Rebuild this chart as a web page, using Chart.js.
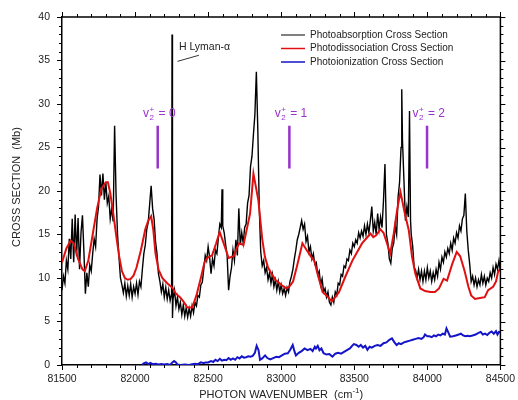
<!DOCTYPE html>
<html>
<head>
<meta charset="utf-8">
<script src="https://cdn.jsdelivr.net/npm/chart.js@4/dist/chart.umd.min.js"></script>
<style>
  html, body { margin: 0; padding: 0; background: #fff; }
  canvas { display: block; }
</style>
</head>
<body>
<canvas id="chart" width="518" height="400"></canvas>
<script>
// Photoabsorption spectrum (cm^-1, Mb)
const absWavenumber = [
  81500,81510,81520,81530,81540,81550,81560,81570,81580,81590,
  81600,81610,81620,81630,81640,81650,81660,81670,81680,81690,
  81700,81710,81720,81730,81740,81750,81760,81770,81780,81790,
  81800,81810,81820,81830,81840,81850,81860,81870,81880,81890,
  81900,81910,81920,81930,81940,81950,81960,81970,81980,81990,
  82000,82010,82020,82030,82040,82050,82060,82070,82080,82090,
  82100,82110,82120,82130,82140,82150,82160,82170,82180,82190,
  82200,82210,82220,82230,82240,82250,82253,82256,82260,82270,
  82280,82290,82300,82310,82320,82330,82340,82350,82360,82370,
  82380,82390,82400,82410,82420,82430,82440,82450,82460,82470,
  82480,82490,82500,82510,82520,82530,82540,82550,82560,82570,
  82580,82590,82595,82600,82610,82620,82630,82640,82650,82660,
  82670,82680,82690,82700,82710,82720,82730,82740,82750,82760,
  82770,82780,82790,82800,82810,82820,82830,82840,82850,82860,
  82870,82880,82890,82900,82910,82920,82930,82940,82950,82960,
  82970,82980,82990,83000,83010,83020,83030,83040,83050,83060,
  83070,83080,83090,83100,83110,83120,83130,83140,83150,83160,
  83170,83180,83190,83200,83210,83220,83230,83240,83250,83260,
  83270,83280,83290,83300,83310,83320,83330,83340,83350,83360,
  83370,83380,83390,83400,83410,83420,83430,83440,83450,83460,
  83470,83480,83490,83500,83510,83520,83530,83540,83550,83560,
  83570,83580,83590,83600,83610,83620,83630,83640,83650,83660,
  83670,83680,83690,83700,83710,83720,83730,83740,83750,83760,
  83770,83780,83790,83800,83810,83820,83825,83830,83840,83850,
  83860,83870,83878,83885,83890,83900,83910,83920,83930,83940,
  83950,83960,83970,83980,83990,84000,84010,84020,84030,84040,
  84050,84060,84070,84080,84090,84100,84110,84120,84130,84140,
  84150,84160,84170,84180,84190,84200,84210,84220,84230,84240,
  84250,84260,84270,84280,84290,84300,84310,84320,84330,84340,
  84350,84360,84370,84380,84390,84400,84410,84420,84430,84440,
  84450,84460,84470,84480,84490,84500
];
const absCrossSection = [
  8.6,10.2,9.4,12.0,11.0,14.5,12.2,16.8,11.8,17.3,
  12.5,16.9,11.0,15.2,17.2,13.0,8.2,10.6,9.0,11.5,
  10.8,12.8,14.5,13.6,16.8,18.2,21.9,19.5,22.0,19.0,
  21.0,18.6,19.4,16.8,18.0,16.5,27.5,19.5,15.0,12.4,
  10.0,9.2,8.3,9.4,7.9,9.1,8.0,9.3,7.8,9.0,
  8.2,9.4,8.1,9.6,9.0,11.0,12.8,13.8,15.6,16.4,
  18.5,20.6,18.0,16.8,14.2,12.8,10.5,9.6,8.4,9.3,
  7.8,8.9,7.6,8.6,7.4,8.2,38.0,5.4,7.6,8.6,
  6.8,7.8,6.4,7.2,5.8,6.9,5.6,6.6,5.5,6.5,
  5.6,6.8,6.0,7.2,6.8,8.0,7.8,9.2,9.5,11.0,
  12.6,12.0,13.6,12.4,10.5,12.2,11.4,13.2,12.8,14.6,
  16.2,15.8,20.2,16.0,15.2,13.8,12.6,8.6,10.2,11.2,
  13.2,12.0,14.4,12.6,18.0,13.8,15.2,14.0,15.8,16.2,
  18.6,19.5,22.8,24.0,26.5,28.8,33.7,27.0,18.0,13.0,
  11.4,12.0,10.6,11.2,9.8,10.6,9.4,10.4,9.0,9.8,
  8.6,9.6,8.4,9.2,8.2,8.8,8.0,8.9,8.4,9.6,
  10.2,11.0,12.2,13.2,14.4,15.0,15.8,16.6,15.6,16.2,
  14.2,14.8,13.0,13.6,12.2,12.8,11.6,11.8,10.4,10.8,
  9.2,9.9,8.4,8.8,7.8,8.4,7.2,6.9,7.8,7.2,
  8.4,8.0,9.4,9.2,10.4,10.2,11.4,11.2,12.2,12.0,
  13.2,12.8,14.0,13.6,14.4,14.0,15.2,14.6,15.4,14.8,
  16.0,15.0,16.2,15.2,16.6,18.2,15.4,16.4,15.0,17.4,
  15.6,17.0,15.8,18.9,23.1,15.0,14.0,12.2,11.7,13.4,
  14.0,16.0,15.0,19.3,21.0,25.0,31.7,25.8,21.2,16.6,
  18.2,17.0,29.2,16.6,15.0,13.6,11.2,10.9,10.0,11.0,
  9.8,10.8,9.6,10.8,9.8,11.2,10.0,10.8,9.6,10.6,
  9.8,11.0,10.2,11.8,11.0,12.4,11.8,13.0,12.4,13.4,
  12.8,14.0,13.2,14.6,14.0,15.2,14.6,16.0,15.4,16.8,
  17.2,19.7,15.4,13.2,11.6,9.6,10.2,9.2,10.0,9.0,
  9.8,9.2,10.4,9.4,10.2,9.2,10.0,9.6,10.6,10.0,
  11.2,10.4,11.6,11.0,12.0,10.8
];

// Photodissociation cross section
const dissWavenumber = [
  81500,81530,81559,81580,81610,81640,81656,81680,81710,81740,
  81770,81800,81814,81830,81850,81870,81890,81910,81930,81950,
  81970,81990,82010,82040,82070,82090,82110,82125,82140,82160,
  82186,82220,82254,82280,82312,82335,82357,82391,82420,82450,
  82475,82493,82527,82555,82579,82610,82640,82674,82700,82713,
  82742,82787,82810,82844,82870,82889,82910,82934,82960,83002,
  83036,83060,83081,83110,83145,83175,83206,83226,83250,83283,
  83310,83346,83370,83396,83440,83487,83520,83554,83585,83611,
  83630,83650,83679,83700,83720,83746,83770,83795,83816,83845,
  83873,83895,83918,83952,83985,84020,84052,84080,84111,84135,
  84170,84201,84225,84255,84281,84300,84326,84360,84393,84416,
  84450,84470,84484,84500
];
const dissCrossSection = [
  11.8,13.4,14.3,14.0,12.2,11.0,10.8,12.0,15.0,18.0,
  20.3,21.0,21.0,19.8,17.5,15.0,12.6,10.8,10.0,9.8,
  9.9,10.3,11.2,13.2,15.6,16.6,17.1,15.5,12.8,11.0,
  10.0,9.4,8.9,8.2,7.7,7.2,6.6,6.6,8.0,10.0,
  11.8,12.3,12.6,14.0,15.3,13.8,12.3,12.5,13.6,14.0,
  13.8,17.4,22.0,18.9,14.5,12.4,11.2,10.5,9.8,9.2,
  8.8,9.1,9.6,11.5,14.0,13.2,12.4,12.0,10.4,8.4,
  8.0,7.3,7.8,8.4,10.2,12.0,13.0,14.0,14.6,15.1,
  14.7,14.9,15.6,15.2,14.2,12.8,15.1,18.0,19.9,17.5,
  15.5,12.5,10.5,8.8,8.5,8.4,8.4,8.8,9.9,9.7,
  11.6,13.0,12.5,10.8,9.0,8.0,7.6,7.7,7.8,8.6,
  9.0,9.6,10.7,11.1
];

// Photoionization cross section
const ionWavenumber = [
  82050,82060,82075,82090,82105,82120,82140,82160,82180,82200,
  82220,82240,82255,82267,82280,82290,82310,82340,82370,82391,
  82410,82430,82450,82470,82482,82500,82520,82535,82550,82565,
  82580,82595,82610,82625,82640,82655,82670,82685,82700,82715,
  82730,82745,82760,82775,82790,82805,82820,82832,82845,82855,
  82870,82890,82905,82925,82945,82966,82985,83005,83025,83045,
  83060,83079,83092,83101,83120,83140,83160,83180,83200,83215,
  83230,83238,83250,83262,83275,83290,83310,83330,83351,83370,
  83390,83410,83430,83450,83470,83485,83497,83515,83530,83545,
  83560,83575,83590,83605,83620,83640,83660,83680,83700,83720,
  83740,83758,83775,83790,83805,83820,83840,83860,83880,83900,
  83920,83940,83960,83975,83984,84000,84015,84030,84045,84060,
  84075,84090,84105,84120,84131,84142,84156,84175,84195,84215,
  84230,84245,84260,84275,84290,84310,84330,84350,84365,84380,
  84395,84410,84425,84440,84455,84470,84480,84490,84500
];
const ionCrossSection = [
  0.05,0.2,0.3,0.1,0.25,0.1,0.15,0.05,0.1,0.05,
  0.1,0.0,0.3,0.45,0.3,0.05,0.0,0.05,0.0,0.1,
  0.15,0.1,0.3,0.2,0.3,0.3,0.45,0.35,0.6,0.45,
  0.7,0.5,0.6,0.55,0.8,0.6,0.75,0.6,0.9,0.75,
  1.0,0.85,0.9,1.0,0.95,1.05,1.4,2.2,1.7,0.6,
  0.75,1.1,0.8,0.65,0.8,0.95,0.9,1.1,1.3,1.35,
  1.7,2.3,1.5,1.1,1.4,1.6,1.9,1.7,1.85,1.6,
  2.1,1.9,2.2,1.7,1.9,1.35,1.2,1.25,0.95,1.3,
  1.4,1.3,1.5,1.7,1.9,2.2,2.4,2.3,2.1,2.3,
  2.0,2.2,1.75,2.1,2.0,2.2,2.3,2.2,2.5,2.6,
  2.9,3.06,2.6,2.3,2.5,2.4,2.6,2.7,2.8,2.9,
  3.0,3.1,3.0,3.2,3.5,3.3,3.3,3.2,3.4,3.3,
  3.5,3.4,3.6,3.5,4.2,3.8,3.25,3.3,3.4,3.5,
  3.6,3.4,3.3,3.35,3.3,3.4,3.5,3.7,3.8,3.5,
  3.6,3.45,3.7,3.85,3.6,3.9,3.5,3.8,3.75
];

// Axis ticks
const xTicks = [81500, 82000, 82500, 83000, 83500, 84000, 84500];
const yTicks = [0, 5, 10, 15, 20, 25, 30, 35, 40];

const seriesNames = [
  'Photoabsorption Cross Section',
  'Photodissociation Cross Section',
  'Photoionization Cross Section'
];

// Ionic vibrational level markers v2+ = 0, 1, 2
const vibLevels = ['0', '1', '2'];
const vibWavenumber = [82155, 83056, 83998];
const vibMarkerRange = [22.6, 27.5];
const vibLabelLevel = 28.5;

// H Lyman-alpha label and its pointer
const lymanLabel = 'H Lyman-\u03b1';
const lymanLabelPos = [82300, 36.5];
const lymanPointerX = [82290, 82437];
const lymanPointerY = [34.9, 35.6];

const COLORS = { abs: '#000000', diss: '#e01010', ion: '#1414c8', vib: '#9933cc' };
const FONT = "'Liberation Sans', Arial, sans-serif";

const pts = (xs, ys) => xs.map((x, i) => ({ x: x, y: ys[i] }));

const datasets = [
  { label: seriesNames[0], data: pts(absWavenumber, absCrossSection), borderColor: COLORS.abs, borderWidth: 1.4, order: 3 },
  { label: seriesNames[1], data: pts(dissWavenumber, dissCrossSection), borderColor: COLORS.diss, borderWidth: 2, order: 1 },
  { label: seriesNames[2], data: pts(ionWavenumber, ionCrossSection), borderColor: COLORS.ion, borderWidth: 2, order: 2 },
  { label: 'pointer', data: pts(lymanPointerX, lymanPointerY), borderColor: '#000', borderWidth: 0.8, order: 0 }
];
vibWavenumber.forEach((w, i) => {
  datasets.push({
    label: 'v' + vibLevels[i],
    data: pts([w, w], vibMarkerRange),
    borderColor: COLORS.vib, borderWidth: 2.5, order: 0
  });
});

// Frame, minor ticks, legend and text annotations
const decorations = {
  id: 'decorations',
  afterDraw(chart) {
    const ctx = chart.ctx;
    const xs = chart.scales.x, ys = chart.scales.y;
    const a = chart.chartArea;
    ctx.save();
    ctx.strokeStyle = '#000';
    ctx.lineWidth = 1.5;
    ctx.beginPath();
    ctx.moveTo(a.left, a.top); ctx.lineTo(a.right, a.top); ctx.lineTo(a.right, a.bottom);
    ctx.stroke();

    ctx.lineWidth = 1;
    ctx.beginPath();
    for (let v = xs.min; v <= xs.max; v += 100) {
      const px = Math.round(xs.getPixelForValue(v)) + 0.5;
      const major = v % 500 === 0;
      const len = major ? 5 : 3;
      ctx.moveTo(px, a.top); ctx.lineTo(px, a.top - len);
      if (!major) { ctx.moveTo(px, a.bottom); ctx.lineTo(px, a.bottom + len); }
    }
    for (let v = ys.min; v <= ys.max; v += 1) {
      const py = Math.round(ys.getPixelForValue(v)) + 0.5;
      const major = v % 5 === 0;
      const len = major ? 5 : 3;
      ctx.moveTo(a.right, py); ctx.lineTo(a.right + len, py);
      if (!major) { ctx.moveTo(a.left, py); ctx.lineTo(a.left - len, py); }
    }
    ctx.stroke();

    // Legend
    const legendColors = [COLORS.abs, COLORS.diss, COLORS.ion];
    const legendY = [35, 48.5, 62];
    ctx.font = '10px ' + FONT;
    ctx.textBaseline = 'middle';
    ctx.textAlign = 'left';
    seriesNames.forEach((name, i) => {
      ctx.strokeStyle = legendColors[i];
      ctx.lineWidth = i === 0 ? 1 : 1.5;
      ctx.beginPath();
      ctx.moveTo(281, legendY[i]); ctx.lineTo(305, legendY[i]);
      ctx.stroke();
      ctx.fillStyle = '#222';
      ctx.fillText(name, 310, legendY[i]);
    });

    // H Lyman-alpha
    ctx.fillStyle = '#222';
    ctx.font = '10.5px ' + FONT;
    ctx.textBaseline = 'middle';
    ctx.fillText(lymanLabel, xs.getPixelForValue(lymanLabelPos[0]), ys.getPixelForValue(lymanLabelPos[1]));

    // v2+ labels
    ctx.fillStyle = COLORS.vib;
    ctx.textBaseline = 'alphabetic';
    vibWavenumber.forEach((w, i) => {
      let x = xs.getPixelForValue(w - 100);
      const base = ys.getPixelForValue(vibLabelLevel);
      ctx.font = '12px ' + FONT;
      ctx.fillText('v', x, base);
      x += ctx.measureText('v').width + 0.5;
      ctx.font = '8px ' + FONT;
      ctx.fillText('2', x, base + 3);
      ctx.fillText('+', x, base - 5);
      x += ctx.measureText('+').width + 1;
      ctx.font = '12px ' + FONT;
      ctx.fillText(' = ' + vibLevels[i], x, base);
    });

    // Axis titles
    ctx.fillStyle = '#222';
    ctx.font = '11px ' + FONT;
    ctx.textBaseline = 'middle';
    ctx.save();
    ctx.translate(17, (a.top + a.bottom) / 2 - 4);
    ctx.rotate(-Math.PI / 2);
    ctx.textAlign = 'center';
    ctx.fillText('CROSS SECTION  (Mb)', 0, 0);
    ctx.restore();

    const t1 = 'PHOTON WAVENUMBER  (cm';
    const t2 = '-1';
    const t3 = ')';
    ctx.font = '11px ' + FONT;
    const w1 = ctx.measureText(t1).width, w3 = ctx.measureText(t3).width;
    ctx.font = '8px ' + FONT;
    const w2 = ctx.measureText(t2).width;
    let tx = (a.left + a.right) / 2 - (w1 + w2 + w3) / 2;
    const ty = 395;
    ctx.textAlign = 'left';
    ctx.font = '11px ' + FONT;
    ctx.fillText(t1, tx, ty);
    tx += w1;
    ctx.font = '8px ' + FONT;
    ctx.fillText(t2, tx, ty - 4);
    tx += w2;
    ctx.font = '11px ' + FONT;
    ctx.fillText(t3, tx, ty);
    ctx.restore();
  }
};

new Chart(document.getElementById('chart'), {
  type: 'line',
  data: { datasets: datasets },
  options: {
    responsive: false,
    animation: false,
    devicePixelRatio: 1,
    parsing: true,
    layout: { padding: { left: 0, right: 14, top: 17, bottom: 0 } },
    elements: { point: { radius: 0 }, line: { tension: 0, fill: false } },
    plugins: { legend: { display: false }, tooltip: { enabled: false } },
    scales: {
      x: {
        type: 'linear', min: 81500, max: 84500,
        afterBuildTicks: s => { s.ticks = xTicks.map(v => ({ value: v })); },
        afterFit: s => { s.height = 35; },
        grid: { drawOnChartArea: false, tickLength: 5, color: '#000', lineWidth: 1 },
        border: { display: true, color: '#000', width: 1.5 },
        ticks: { color: '#222', font: { family: FONT, size: 10.5 }, padding: 3, maxRotation: 0, callback: v => String(v) }
      },
      y: {
        type: 'linear', min: 0, max: 40,
        afterBuildTicks: s => { s.ticks = yTicks.map(v => ({ value: v })); },
        afterFit: s => { s.width = 62; },
        grid: { drawOnChartArea: false, tickLength: 5, color: '#000', lineWidth: 1 },
        border: { display: true, color: '#000', width: 1.5 },
        ticks: { color: '#222', font: { family: FONT, size: 10.5 }, padding: 7, callback: v => String(v) }
      }
    }
  },
  plugins: [decorations]
});
</script>
</body>
</html>
